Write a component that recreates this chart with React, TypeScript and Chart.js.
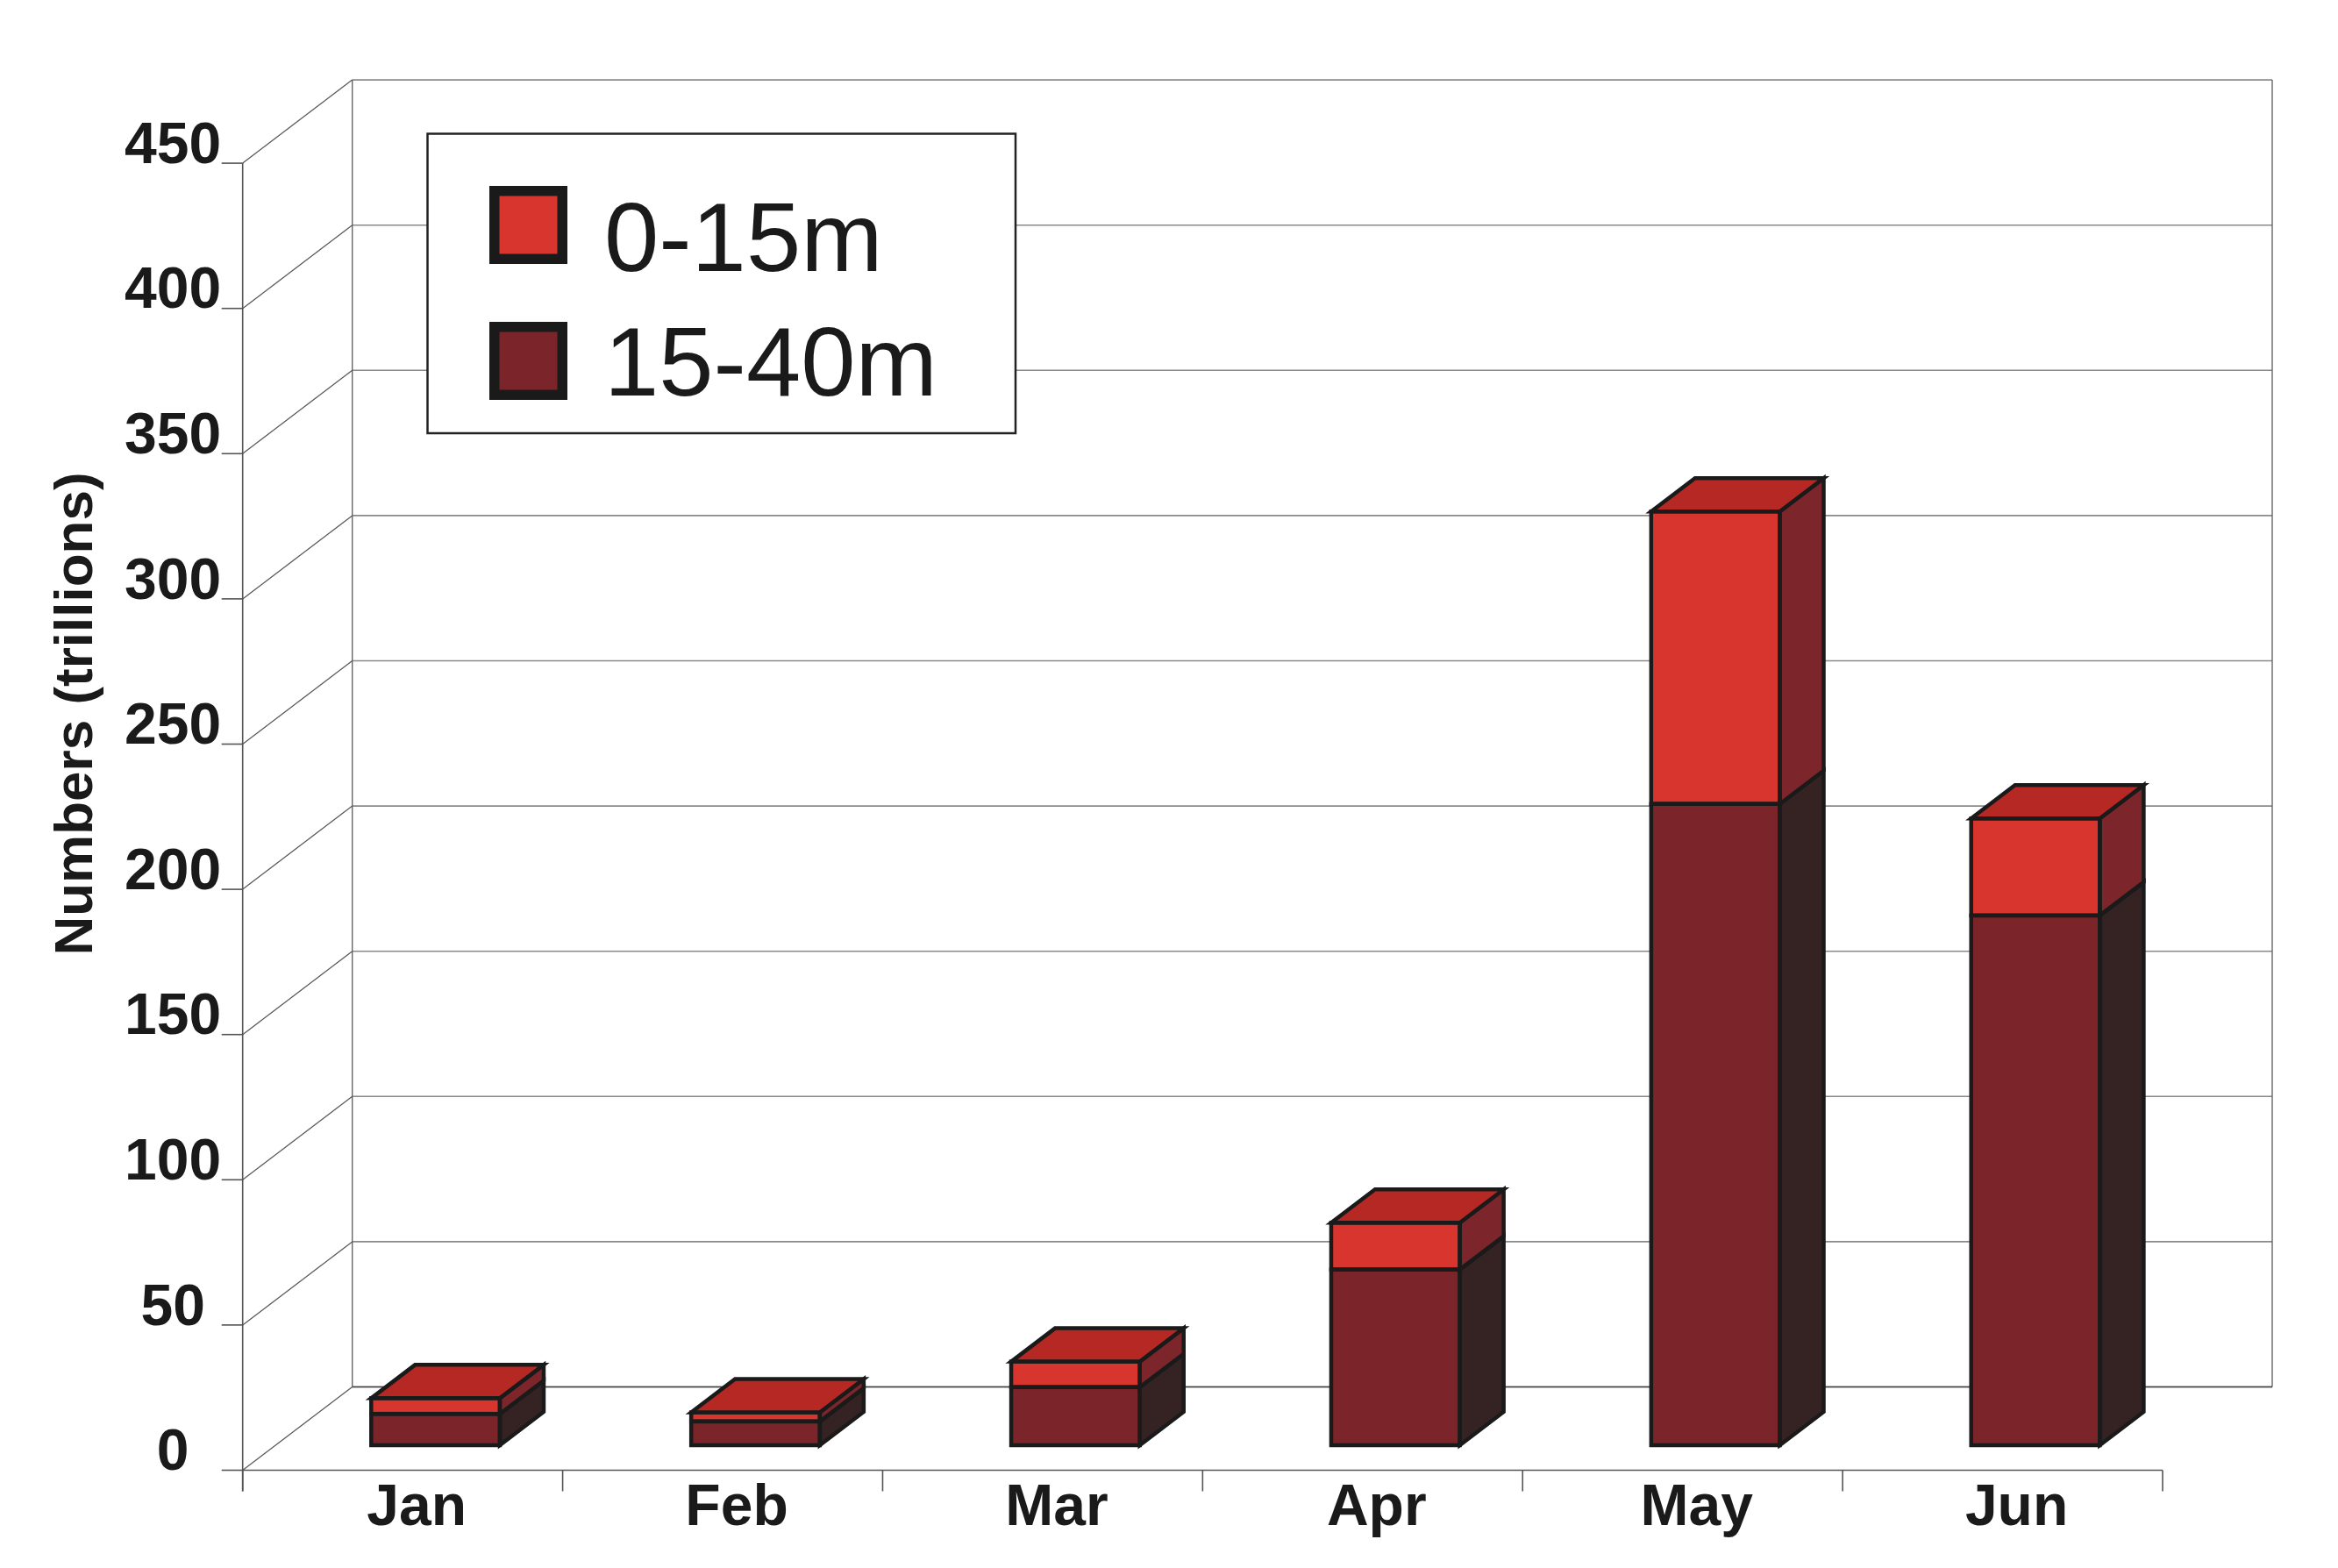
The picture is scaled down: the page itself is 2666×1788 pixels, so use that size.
import React, { useEffect, useRef } from 'react';
import { Chart, registerables } from 'chart.js';

Chart.register(...registerables);

// ---------- data ----------
const categories = ['Jan', 'Feb', 'Mar', 'Apr', 'May', 'Jun'];
const deepValues = [10.8, 8.2, 20.0, 60.5, 220.8, 182.4]; // 15-40m
const shallowValues = [5.4, 3.1, 8.8, 16.1, 100.7, 33.4]; // 0-15m
const deepLabel = '15-40m';
const shallowLabel = '0-15m';
const yMin = 0;
const yMax = 450;
const yStep = 50;
const yTitle = 'Numbers (trillions)';

// ---------- layout / style ----------
const W = 2666;
const H = 1788;
const CHART_TOP = 157.6;
const CHART_BOTTOM = 1648;
const CHART_LEFT = 314.2;
const CHART_RIGHT = 2503.5;
const DEPTH_X = 125;
const DEPTH_Y = 95;
const FRONT_FRAC = 0.3;
const BAR_FRAC = 0.4;
const TICK_LEN = 24;
const OUTLINE_W = 4.5;
const FONT = '"Liberation Sans", Arial, Helvetica, sans-serif';

const COLORS = {
  shallowFront: '#D9352F',
  shallowSide: '#7C262B',
  deepFront: '#7B252A',
  deepSide: '#352323',
  top: '#B52823',
  outline: '#1a1a1a',
  text: '#1a1a1a',
};

const threeD = {
  id: 'threeD',
  beforeDatasetsDraw(chart: any) {
    const { ctx, scales } = chart;
    const x = scales.x;
    const y = scales.y;
    const n = categories.length;
    const half = (x.getPixelForValue(1) - x.getPixelForValue(0)) / 2;
    const b0 = x.getPixelForValue(0) - half;
    const bN = x.getPixelForValue(n - 1) + half;
    const fdx = -FRONT_FRAC * DEPTH_X;
    const fdy = FRONT_FRAC * DEPTH_Y;
    const bdx = (1 - FRONT_FRAC) * DEPTH_X;
    const bdy = -(1 - FRONT_FRAC) * DEPTH_Y;
    const values = y.ticks.map((t: any) => t.value);
    const yTop = y.getPixelForValue(yMax);
    const y0 = y.getPixelForValue(0);

    ctx.save();
    ctx.lineCap = 'butt';
    ctx.strokeStyle = '#8a8a8a';
    ctx.lineWidth = 1.6;
    for (const v of values) {
      const py = y.getPixelForValue(v) + bdy;
      ctx.beginPath();
      ctx.moveTo(b0 + bdx, py);
      ctx.lineTo(bN + bdx, py);
      ctx.stroke();
    }
    ctx.strokeStyle = '#666';
    ctx.lineWidth = 1.4;
    for (const bx of [b0 + bdx, bN + bdx]) {
      ctx.beginPath();
      ctx.moveTo(bx, yTop + bdy);
      ctx.lineTo(bx, y0 + bdy);
      ctx.stroke();
    }
    ctx.strokeStyle = '#444';
    ctx.lineWidth = 1.6;
    ctx.beginPath();
    ctx.moveTo(b0 + bdx, y0 + bdy);
    ctx.lineTo(bN + bdx, y0 + bdy);
    ctx.stroke();
    ctx.strokeStyle = '#555';
    ctx.lineWidth = 1.2;
    for (const v of values) {
      const py = y.getPixelForValue(v);
      ctx.beginPath();
      ctx.moveTo(b0 + fdx, py + fdy);
      ctx.lineTo(b0 + bdx, py + bdy);
      ctx.stroke();
    }
    ctx.strokeStyle = '#555';
    ctx.lineWidth = 1.6;
    ctx.beginPath();
    ctx.moveTo(b0 + fdx, yTop + fdy);
    ctx.lineTo(b0 + fdx, y0 + fdy + TICK_LEN);
    ctx.stroke();
    for (const v of values) {
      const py = y.getPixelForValue(v) + fdy;
      ctx.beginPath();
      ctx.moveTo(b0 + fdx - TICK_LEN, py);
      ctx.lineTo(b0 + fdx, py);
      ctx.stroke();
    }
    ctx.beginPath();
    ctx.moveTo(b0 + fdx, y0 + fdy);
    ctx.lineTo(bN + fdx, y0 + fdy);
    ctx.stroke();
    for (let i = 0; i <= n; i++) {
      const bx = b0 + i * 2 * half + fdx;
      ctx.beginPath();
      ctx.moveTo(bx, y0 + fdy);
      ctx.lineTo(bx, y0 + fdy + TICK_LEN);
      ctx.stroke();
    }
    ctx.restore();
  },
  afterDatasetsDraw(chart: any) {
    const { ctx } = chart;
    const dx = BAR_FRAC * DEPTH_X;
    const dy = BAR_FRAC * DEPTH_Y;
    const sideColors = [COLORS.deepSide, COLORS.shallowSide];
    const tops: any[] = [];
    const fronts: any[] = [];
    ctx.save();
    ctx.lineJoin = 'miter';
    ctx.lineWidth = OUTLINE_W;
    ctx.strokeStyle = COLORS.outline;
    chart.data.datasets.forEach((ds: any, di: number) => {
      const meta = chart.getDatasetMeta(di);
      meta.data.forEach((el: any, i: number) => {
        const p = el.getProps(['x', 'y', 'base', 'width'], true);
        const left = p.x - p.width / 2;
        const right = p.x + p.width / 2;
        const top = Math.min(p.y, p.base);
        const bot = Math.max(p.y, p.base);
        ctx.beginPath();
        ctx.moveTo(right, top);
        ctx.lineTo(right + dx, top - dy);
        ctx.lineTo(right + dx, bot - dy);
        ctx.lineTo(right, bot);
        ctx.closePath();
        ctx.fillStyle = sideColors[di];
        ctx.fill();
        ctx.stroke();
        fronts.push({ left, right, top, bot });
        if (!tops[i] || top < tops[i].top) tops[i] = { left, right, top };
      });
    });
    fronts.forEach((f) => {
      ctx.strokeRect(f.left, f.top, f.right - f.left, f.bot - f.top);
    });
    tops.forEach((t) => {
      if (!t) return;
      ctx.beginPath();
      ctx.moveTo(t.left, t.top);
      ctx.lineTo(t.left + dx, t.top - dy);
      ctx.lineTo(t.right + dx, t.top - dy);
      ctx.lineTo(t.right, t.top);
      ctx.closePath();
      ctx.fillStyle = COLORS.top;
      ctx.fill();
      ctx.stroke();
    });
    ctx.restore();
  },
  afterDraw(chart: any) {
    const { ctx } = chart;
    ctx.save();
    ctx.translate(88, 814);
    ctx.rotate(-Math.PI / 2);
    ctx.font = `bold 62px ${FONT}`;
    ctx.fillStyle = COLORS.text;
    ctx.textAlign = 'center';
    ctx.textBaseline = 'middle';
    ctx.fillText(yTitle, 0, 0);
    ctx.restore();

    ctx.save();
    ctx.fillStyle = '#fff';
    ctx.fillRect(487.5, 152.5, 670.5, 341.5);
    ctx.strokeStyle = '#222';
    ctx.lineWidth = 2.5;
    ctx.strokeRect(487.5, 152.5, 670.5, 341.5);
    const items = [
      { label: shallowLabel, color: COLORS.shallowFront, boxTop: 212, base: 309 },
      { label: deepLabel, color: COLORS.deepFront, boxTop: 367, base: 451 },
    ];
    for (const it of items) {
      ctx.fillStyle = COLORS.outline;
      ctx.fillRect(558, it.boxTop, 89, 89);
      ctx.fillStyle = it.color;
      ctx.fillRect(558 + 11.5, it.boxTop + 11.5, 89 - 23, 89 - 23);
      ctx.fillStyle = COLORS.text;
      ctx.font = `112px ${FONT}`;
      ctx.textAlign = 'left';
      ctx.textBaseline = 'alphabetic';
      ctx.fillText(it.label, 689, it.base);
    }
    ctx.restore();
  },
};

export default function App() {
  const ref = useRef<HTMLCanvasElement | null>(null);
  useEffect(() => {
    if (!ref.current) return;
    const chart = new Chart(ref.current, {
      type: 'bar',
      data: {
        labels: categories,
        datasets: [
          {
            label: deepLabel,
            data: deepValues,
            backgroundColor: COLORS.deepFront,
            borderWidth: 0,
            barPercentage: 0.402,
            categoryPercentage: 1,
          },
          {
            label: shallowLabel,
            data: shallowValues,
            backgroundColor: COLORS.shallowFront,
            borderWidth: 0,
            barPercentage: 0.402,
            categoryPercentage: 1,
          },
        ],
      },
      options: {
        responsive: false,
        animation: false,
        devicePixelRatio: 1,
        layout: { padding: { top: CHART_TOP, right: W - CHART_RIGHT, bottom: 0, left: 0 } },
        plugins: { legend: { display: false }, tooltip: { enabled: false }, title: { display: false } },
        scales: {
          x: {
            type: 'category',
            stacked: true,
            offset: true,
            grid: { display: false, drawTicks: false, tickLength: 0 },
            border: { display: false },
            ticks: {
              color: COLORS.text,
              font: { family: FONT, size: 66, weight: 'bold' },
              padding: 33,
              labelOffset: -21.5,
              maxRotation: 0,
              autoSkip: false,
            },
            afterFit: (s: any) => {
              s.height = H - CHART_BOTTOM;
            },
          },
          y: {
            stacked: true,
            min: yMin,
            max: yMax,
            grid: { display: false, drawTicks: false, tickLength: 0 },
            border: { display: false },
            ticks: {
              stepSize: yStep,
              color: COLORS.text,
              font: { family: FONT, size: 66, weight: 'bold' },
              padding: 62,
              crossAlign: 'center',
              labelOffset: 10,
            },
            afterFit: (s: any) => {
              s.width = CHART_LEFT;
            },
          },
        },
      } as any,
      plugins: [threeD],
    });
    return () => chart.destroy();
  }, []);
  return (
    <div style={{ position: 'fixed', left: 0, top: 0, width: W, height: H, background: '#fff' }}>
      <canvas ref={ref} width={W} height={H} style={{ display: 'block', width: W, height: H }} />
    </div>
  );
}
